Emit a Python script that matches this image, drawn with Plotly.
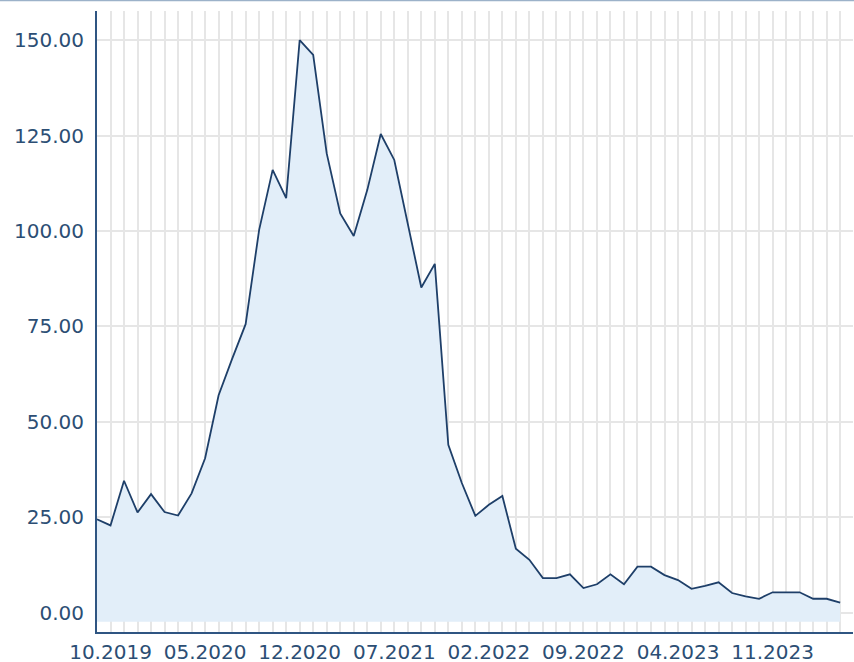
import plotly.graph_objects as go

# Monthly values, 09.2019 .. 04.2024
months = [
    "09.2019", "10.2019", "11.2019", "12.2019", "01.2020", "02.2020", "03.2020", "04.2020",
    "05.2020", "06.2020", "07.2020", "08.2020", "09.2020", "10.2020", "11.2020", "12.2020",
    "01.2021", "02.2021", "03.2021", "04.2021", "05.2021", "06.2021", "07.2021", "08.2021",
    "09.2021", "10.2021", "11.2021", "12.2021", "01.2022", "02.2022", "03.2022", "04.2022",
    "05.2022", "06.2022", "07.2022", "08.2022", "09.2022", "10.2022", "11.2022", "12.2022",
    "01.2023", "02.2023", "03.2023", "04.2023", "05.2023", "06.2023", "07.2023", "08.2023",
    "09.2023", "10.2023", "11.2023", "12.2023", "01.2024", "02.2024", "03.2024", "04.2024",
]
values = [
    24.5, 22.9, 34.6, 26.3, 31.1, 26.4, 25.5, 31.3,
    40.5, 57.0, 66.5, 75.6, 100.3, 116.0, 108.6, 150.0,
    146.1, 120.3, 104.6, 98.7, 110.7, 125.4, 118.6, 102.0,
    85.2, 91.4, 44.0, 34.0, 25.4, 28.3, 30.6, 16.8,
    13.9, 9.1, 9.1, 10.1, 6.5, 7.5, 10.1, 7.5,
    12.1, 12.1, 9.9, 8.6, 6.3, 7.1, 8.0, 5.2,
    4.3, 3.7, 5.4, 5.4, 5.4, 3.7, 3.7, 2.7,
]
tick_labels = ["10.2019", "05.2020", "12.2020", "07.2021", "02.2022", "09.2022", "04.2023", "11.2023"]
y_ticks = [0, 25, 50, 75, 100, 125, 150]
fill_floor = -2.3

idx = list(range(len(months)))
tick_idx = [months.index(t) for t in tick_labels]

text_color = "#2c4e74"
font = dict(family="DejaVu Sans", size=20, color=text_color)

fig = go.Figure()
fig.add_trace(go.Scatter(
    x=idx, y=[fill_floor] * len(idx), mode="lines",
    line=dict(width=0), hoverinfo="skip", showlegend=False,
))
fig.add_trace(go.Scatter(
    x=idx, y=values, mode="lines", fill="tonexty",
    fillcolor="#e2eef9", line=dict(color="#1e3f69", width=1.8),
    customdata=months, hovertemplate="%{customdata}: %{y:.2f}<extra></extra>",
    showlegend=False,
))

fig.update_layout(
    width=854, height=662,
    margin=dict(l=97, r=1, t=11, b=30),
    paper_bgcolor="white", plot_bgcolor="white",
    font=font,
    shapes=[dict(type="line", xref="paper", yref="paper",
                 x0=-0.2, x1=1.1, y0=1 + 10.5 / 621, y1=1 + 10.5 / 621,
                 line=dict(color="#9cb2c9", width=1.5))],
)
fig.update_xaxes(
    range=[0, 55.95],
    tickmode="array", tickvals=tick_idx, ticktext=tick_labels,
    showgrid=True, gridcolor="#e6e6e6", gridwidth=2,
    minor=dict(tick0=0, dtick=1, showgrid=True, gridcolor="#e6e6e6", gridwidth=2),
    showline=True, linecolor="#2f5582", linewidth=2,
    ticks="outside", ticklen=1, tickcolor="rgba(0,0,0,0)",
    zeroline=False, automargin=False, fixedrange=True,
    tickfont=font,
)
fig.update_yaxes(
    range=[-5, 157.6],
    tickmode="array", tickvals=y_ticks, ticktext=[f"{v:.2f}" for v in y_ticks],
    showgrid=True, gridcolor="#e6e6e6", gridwidth=2,
    showline=True, linecolor="#2f5582", linewidth=2,
    ticks="outside", ticklen=7, tickcolor="rgba(0,0,0,0)",
    zeroline=False, automargin=False, fixedrange=True,
    tickfont=font,
)

fig.write_html(
    "out.html",
    config={"displayModeBar": False},
    post_script="document.body.style.margin='0';document.body.style.overflow='hidden';",
)
